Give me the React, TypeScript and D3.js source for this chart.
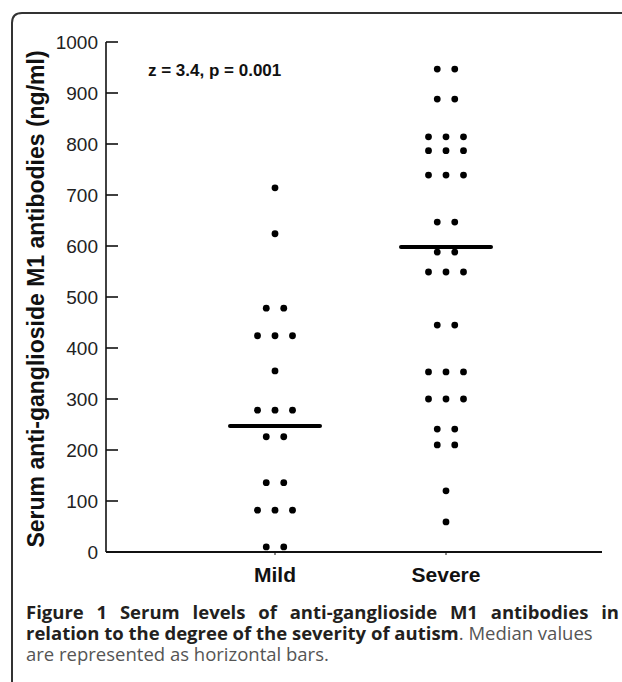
import React from 'react'
import * as d3 from 'd3'

// values (ng/ml), one entry per dot
const groups = ['Mild', 'Severe']
const mildValues = [714, 624, 478, 478, 424, 424, 424, 355, 278, 278, 278, 226, 226, 136, 136, 82, 82, 82, 10, 10]
const severeValues = [947, 947, 888, 888, 814, 814, 814, 787, 787, 787, 739, 739, 739, 647, 647, 588, 588,
    549, 549, 549, 445, 445, 353, 353, 353, 300, 300, 300, 241, 241, 210, 210, 120, 59]
const medians = [247, 598]
const yTicks = [0, 100, 200, 300, 400, 500, 600, 700, 800, 900, 1000]
const statLabel = 'z = 3.4, p = 0.001'

const W = 622
const H = 682
const axisX = 106
const axisRight = 602
const yTop = 42
const yBottom = 552
const dotGap = 17.5

const App = () => {
    const y = d3.scaleLinear().domain([0, 1000]).range([yBottom, yTop])
    const x = d3.scalePoint().domain(groups).range([275, 446])

    // stack equal values side by side, like the original dot plot
    const layout = (vals, g) => {
        const counts = d3.rollup(vals, v => v.length, d => d)
        const seen = new Map()
        return vals.map((v, i) => {
            const n = counts.get(v)
            const k = seen.get(v) || 0
            seen.set(v, k + 1)
            return { key: `${g}${i}`, cx: x(g) + (k - (n - 1) / 2) * dotGap, cy: y(v) }
        })
    }
    const dots = [...layout(mildValues, 'Mild'), ...layout(severeValues, 'Severe')]

    const font = '"Liberation Sans", Arial, sans-serif'
    const capFont = '"Open Sans", "Noto Sans", sans-serif'

    return (
        <svg width={W} height={H} style={{ position: 'absolute', left: 0, top: 0, background: '#fff' }}>
            <path d={`M12,${H + 10} L12,23 Q12,13 22,13 L${W + 10},13`} fill="none" stroke="#333" strokeWidth={2} />

            {/* y axis */}
            <line x1={axisX} x2={axisX} y1={y(1000)} y2={y(0)} stroke="#111" strokeWidth={1.6} />
            {yTicks.map(t => (
                <g key={`t${t}`}>
                    <line x1={axisX} x2={axisX + 12} y1={y(t)} y2={y(t)} stroke="#111" strokeWidth={1.6} />
                    <text x={98} y={y(t)} dy="0.35em" textAnchor="end" fontFamily={font} fontSize={19} fill="#222">{t}</text>
                </g>
            ))}
            <text transform={`translate(36,${(yTop + yBottom) / 2 + 2}) rotate(-90)`} textAnchor="middle" dy="0.35em"
                fontFamily={font} fontWeight="bold" fontSize={23} fill="#111">
                Serum anti-ganglioside M1 antibodies (ng/ml)
            </text>

            {/* x axis */}
            <line x1={axisX} x2={axisRight} y1={y(0)} y2={y(0)} stroke="#111" strokeWidth={2} />
            {groups.map(g => (
                <g key={`x${g}`}>
                    <line x1={x(g)} x2={x(g)} y1={y(0)} y2={y(0) + 3} stroke="#111" strokeWidth={1} />
                    <text x={x(g)} y={y(0) + 23} dy="0.35em" textAnchor="middle" fontFamily={font} fontWeight="bold" fontSize={21} fill="#111">{g}</text>
                </g>
            ))}

            {dots.map(d => <circle key={d.key} cx={d.cx} cy={d.cy} r={3.4} fill="#000" />)}

            {groups.map((g, i) => (
                <line key={`m${g}`} x1={x(g) - 45} x2={x(g) + 45} y1={y(medians[i])} y2={y(medians[i])}
                    stroke="#000" strokeWidth={4} strokeLinecap="round" />
            ))}

            <text x={148} y={70} dy="0.35em" fontFamily={font} fontWeight="bold" fontSize={17} fill="#111">{statLabel}</text>

            {/* caption */}
            <g fontFamily={capFont} fontSize={18.5}>
                <text x={26} y={619} fontWeight="bold" fill="#231f20" wordSpacing={8}>Figure 1 Serum levels of anti-ganglioside M1 antibodies in</text>
                <text x={26} y={640}>
                    <tspan fontWeight="bold" fill="#231f20">relation to the degree of the severity of autism</tspan>
                    <tspan fill="#555">. Median values</tspan>
                </text>
                <text x={26} y={661} fill="#555">are represented as horizontal bars.</text>
            </g>
        </svg>
    )
}

export default App
